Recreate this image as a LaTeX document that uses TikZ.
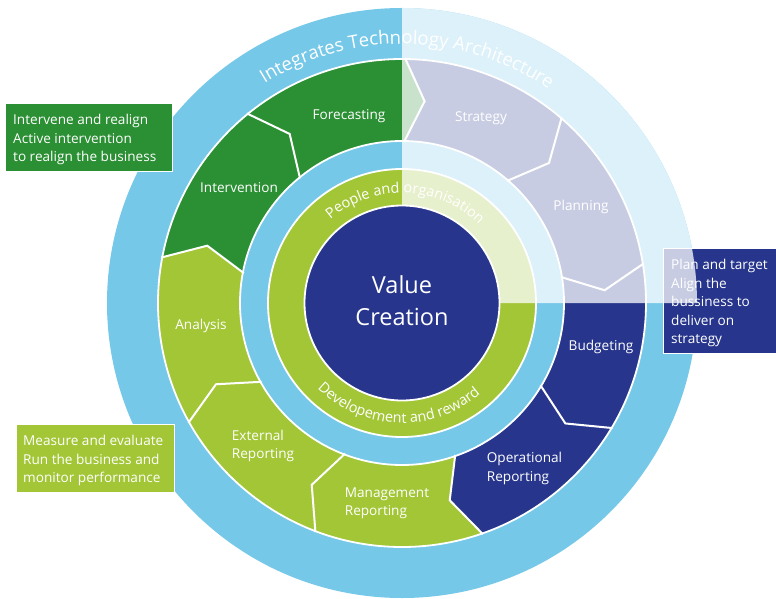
\documentclass[tikz,border=0pt]{standalone}
\usepackage{fontspec}
\setmainfont{Open Sans}
\usetikzlibrary{decorations.text}
\definecolor{dblue}{HTML}{27368C}
\definecolor{dgreen}{HTML}{2B8F33}
\definecolor{lgreen}{HTML}{A3C637}
\definecolor{lblue}{HTML}{75C8E8}
\begin{document}
\begin{tikzpicture}[x=1pt,y=1pt,
  seglabel/.style={text=white, font=\fontsize{13.6}{18.5}\selectfont, inner sep=0pt, align=left},
  boxtext/.style={text=white, font=\fontsize{13.6}{18.5}\selectfont, inner sep=0pt, align=left, anchor=west},
  infobox/.style={draw=white, line width=1.2pt, anchor=north west, inner sep=0pt},
  sepline/.style={white, line width=2pt},
  ringline/.style={white, line width=1.8pt}
]
\useasboundingbox (0,0) rectangle (776,598);
\begin{scope}[shift={(402,295)}]
  % outer ring
  \fill[lblue] (0,0) circle[radius=295];
  % segments
  \foreach \k/\col in {0/dblue,1/dblue,2/dblue,3/dblue,4/lgreen,5/lgreen,6/lgreen,7/dgreen,8/dgreen}{
    \pgfmathsetmacro{\a}{89.3-40*\k}
    \pgfmathsetmacro{\b}{\a-40}
    \pgfmathsetmacro{\at}{\a-5.7}
    \pgfmathsetmacro{\bt}{\b-5.7}
    \fill[\col] (\a:244) arc[start angle=\a, end angle=\b, radius=244pt] -- (\bt:203) -- (\b:162)
      arc[start angle=\b, end angle=\a, radius=162pt] -- (\at:203) -- cycle;
  }
  \foreach \k in {0,...,8}{
    \pgfmathsetmacro{\a}{89.3-40*\k}
    \pgfmathsetmacro{\at}{\a-5.7}
    \draw[sepline] (\a:161) -- (\at:203) -- (\a:245);
  }
  \draw[ringline] (0,0) circle[radius=244];
  \draw[ringline] (0,0) circle[radius=162];
  % green ring
  \fill[lgreen] (0,0) circle[radius=134];
  \draw[ringline] (0,0) circle[radius=134];
\end{scope}
% boxes
\node[infobox, fill=dgreen, minimum width=167, minimum height=68] (gbox) at (5,495) {};
\node[infobox, fill=lgreen, minimum width=158, minimum height=68] (lbox) at (16,174) {};
\node[infobox, fill=dblue, minimum width=118, minimum height=105] (bbox) at (663,350) {};
% overlay on the top-right quadrant
\begin{scope}[shift={(402,295)}]
  \fill[white, opacity=0.75] (0:97.5) -- (0:295) arc[start angle=0, end angle=90, radius=295pt]
    -- (90:97.5) arc[start angle=90, end angle=0, radius=97.5pt] -- cycle;
  % centre
  \fill[dblue] (0,0) circle[radius=97.5];
  \draw[ringline] (0,0) circle[radius=97.5];
  % ring texts
  \path[decorate, decoration={text along path, text align=center, text color=white,
      text={|\fontsize{18.5}{18.5}\selectfont|Integrates Technology Architecture}}]
    (148.75:259) arc[start angle=148.75, end angle=28.75, radius=259pt];
  \path[decorate, decoration={text along path, text align=center, text color=white,
      text={|\fontsize{14.4}{14.4}\selectfont|People and organisation}}]
    (148:110) arc[start angle=148, end angle=28, radius=110pt];
  \path[decorate, decoration={text along path, text align=center, text color=white,
      text={|\fontsize{14.4}{14.4}\selectfont|Developement and reward}}]
    (-152:120) arc[start angle=-152, end angle=-32, radius=120pt];
\end{scope}
\node[text=white, font=\fontsize{23.5}{32}\selectfont, align=center, inner sep=0pt] (vc) at (402,297) {Value\\Creation};
% segment labels
\node[seglabel] (fc) at (349,482) {Forecasting};
\node[seglabel] (st) at (481,480) {Strategy};
\node[seglabel] (pl) at (581,391) {Planning};
\node[seglabel] (bu) at (601,251) {Budgeting};
\node[seglabel] (op) at (524.5,129.5) {Operational\\Reporting};
\node[seglabel] (mr) at (387,94.5) {Management\\Reporting};
\node[seglabel] (er) at (263,152) {External\\Reporting};
\node[seglabel] (an) at (201,272) {Analysis};
\node[seglabel] (iv) at (239,410) {Intervention};
% box texts
\node[boxtext] (gtxt) at ([xshift=8pt,yshift=-2pt]gbox.west) {Intervene and realign\\Active intervention\\to realign the business};
\node[boxtext] (ltxt) at ([xshift=7pt,yshift=-2pt]lbox.west) {Measure and evaluate\\Run the business and\\monitor performance};
\node[boxtext] (btxt) at ([xshift=8pt,yshift=-2pt]bbox.west) {Plan and target\\Align the\\bussiness to\\deliver on\\strategy};
\end{tikzpicture}
\end{document}
